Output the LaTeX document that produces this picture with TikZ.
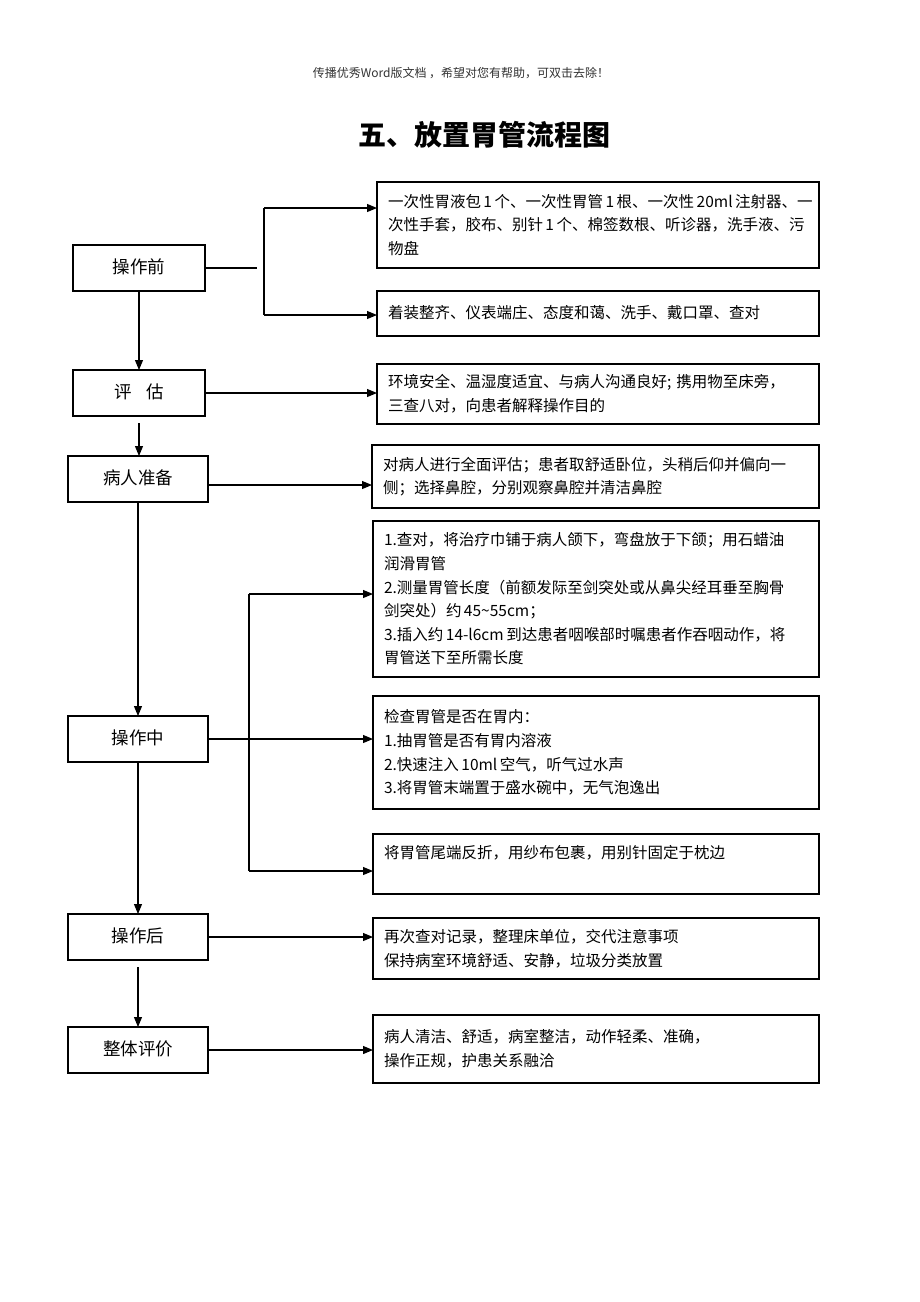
\documentclass[tikz,border=0pt]{standalone}
\usepackage{fontspec}
\setmainfont{Noto Sans CJK SC}
\usetikzlibrary{arrows.meta}
\newcommand{\rline}[1]{\mbox{#1}}
\newcommand{\tsp}{\hspace{2.5pt}}
\begin{document}
\begin{tikzpicture}[x=1pt,y=-1pt,
  lbox/.style={draw, line width=1.1pt, outer sep=0pt, minimum height=46pt, inner sep=0pt, font=\fontsize{17.5}{20}\selectfont},
  rbox/.style={draw, line width=1.1pt, outer sep=0pt, anchor=north west, align=left, inner xsep=11pt, inner ysep=0pt, font=\fontsize{15.5}{23.6}\selectfont},
  arr/.style={-{Triangle[length=10pt,width=8pt]}, line width=1.1pt},
  ln/.style={line width=1.1pt}]
\fill[white] (0,0) rectangle (920,1302);
\useasboundingbox (0,0) rectangle (920,1302);
% header and title
\node[font=\fontsize{12}{14}\selectfont, text=black!80] (hdr) at (461,73) {传播优秀Word版文档 ，希望对您有帮助，可双击去除！};
\node[font=\fontsize{28}{32}\selectfont\bfseries] (title) at (484,135) {五、放置胃管流程图};
% left boxes
\node[lbox, minimum width=132pt] (pre) at (139,268) {\raisebox{3pt}{操作前}};
\node[lbox, minimum width=132pt] (eval) at (139,393) {\raisebox{3pt}{评\hspace{15pt}估}};
\node[lbox, minimum width=140pt] (prep) at (138,479) {\raisebox{3pt}{病人准备}};
\node[lbox, minimum width=140pt] (mid) at (138,739) {\raisebox{3pt}{操作中}};
\node[lbox, minimum width=140pt] (post) at (138,937) {\raisebox{4pt}{操作后}};
\node[lbox, minimum width=140pt] (whole) at (138,1050) {\raisebox{4pt}{整体评价}};
% right boxes
\node[rbox, text width=420pt, minimum height=86pt] (r1) at (377,182) {\rline{一次性胃液包\tsp{}1\tsp{}个、一次性胃管\tsp{}1\tsp{}根、一次性\tsp{}20ml\tsp{}注射器、一}\\\rline{次性手套，胶布、别针\tsp{}1\tsp{}个、棉签数根、听诊器，洗手液、污}\\\rline{物盘}};
\node[rbox, text width=420pt, minimum height=45pt] (r2) at (377,291) {\raisebox{3pt}{着装整齐、仪表端庄、态度和蔼、洗手、戴口罩、查对}};
\node[rbox, text width=420pt, minimum height=60pt] (r3) at (377,364) {\rline{环境安全、温湿度适宜、与病人沟通良好; 携用物至床旁，}\\\rline{三查八对，向患者解释操作目的}};
\node[rbox, text width=425pt, minimum height=63pt] (r4) at (372,445) {\rline{对病人进行全面评估；患者取舒适卧位，头稍后仰并偏向一}\\\rline{侧；选择鼻腔，分别观察鼻腔并清洁鼻腔}};
\node[rbox, text width=424pt, minimum height=156pt] (r5) at (373,521) {\rline{1.查对，将治疗巾铺于病人颌下，弯盘放于下颌；用石蜡油}\\\rline{润滑胃管}\\\rline{2.测量胃管长度（前额发际至剑突处或从鼻尖经耳垂至胸骨}\\\rline{剑突处）约\tsp{}45\textasciitilde{}55cm；}\\\rline{3.插入约\tsp{}14-l6cm\tsp{}到达患者咽喉部时嘱患者作吞咽动作，将}\\\rline{胃管送下至所需长度}};
\node[rbox, text width=424pt, minimum height=113pt] (r6) at (373,696) {\rline{检查胃管是否在胃内：}\\\rline{1.抽胃管是否有胃内溶液}\\\rline{2.快速注入\tsp{}10ml\tsp{}空气，听气过水声}\\\rline{3.将胃管末端置于盛水碗中，无气泡逸出}};
\node[rbox, text width=424pt, minimum height=60pt] (r7) at (373,834) {\rline{将胃管尾端反折，用纱布包裹，用别针固定于枕边}\\\mbox{}};
\node[rbox, text width=424pt, minimum height=61pt] (r8) at (373,918) {\rline{再次查对记录，整理床单位，交代注意事项}\\\rline{保持病室环境舒适、安静，垃圾分类放置}};
\node[rbox, text width=424pt, minimum height=68pt] (r9) at (373,1015) {\rline{病人清洁、舒适，病室整洁，动作轻柔、准确，}\\\rline{操作正规，护患关系融洽}};
% main vertical flow
\draw[arr] (pre.south) -- (eval.north);
\draw[arr, shorten <=7pt] (eval.south) -- (eval.south |- prep.north);
\draw[arr] (prep.south) -- (mid.north);
\draw[arr] (mid.south) -- (post.north);
\draw[arr, shorten <=7pt] (post.south) -- (whole.north);
% branch from pre
\coordinate (b1m) at (257,268);
\coordinate (b1t) at (264,208);
\coordinate (b1b) at (264,315);
\draw[ln] (pre.east |- b1m) -- (b1m);
\draw[ln] (b1t) -- (b1b);
\draw[arr] (b1t) -- (b1t -| r1.west);
\draw[arr] (b1b) -- (b1b -| r2.west);
% single arrows
\draw[arr] (eval.east) -- (eval.east -| r3.west);
\draw[arr] ([yshift=-6pt]prep.east) -- ([yshift=-6pt]prep.east -| r4.west);
\draw[arr] (mid.east) -- (mid.east -| r6.west);
\draw[arr] (post.east) -- (post.east -| r8.west);
\draw[arr] (whole.east) -- (whole.east -| r9.west);
% middle bus
\coordinate (b2t) at (249,594);
\coordinate (b2b) at (249,871);
\draw[ln] (b2t) -- (b2b);
\draw[arr] (b2t) -- (b2t -| r5.west);
\draw[arr] (b2b) -- (b2b -| r7.west);
\end{tikzpicture}
\end{document}
